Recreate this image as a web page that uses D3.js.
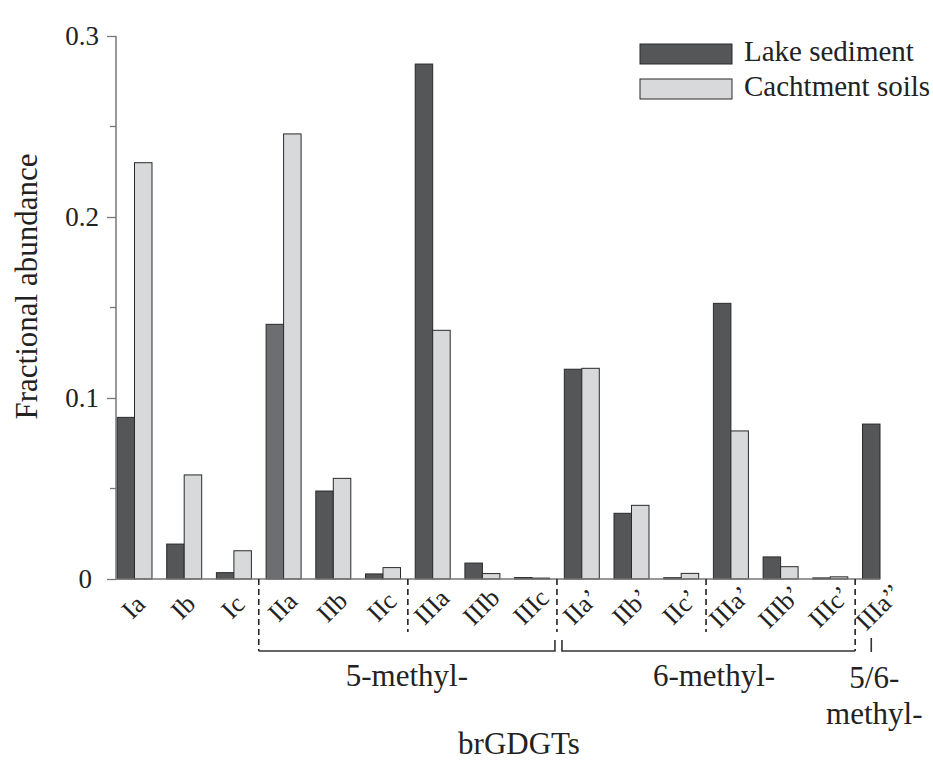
<!DOCTYPE html>
<html>
<head>
<meta charset="utf-8">
<script src="https://cdn.jsdelivr.net/npm/d3@7"></script>
<style>
    body { margin: 0; background: #fff; }
    svg { display: block; font-family: "Liberation Serif", "Times New Roman", serif; }
    .tickLabel { font-size: 27px; fill: #222; font-family: "Liberation Serif", serif; }
    .catLabel { font-size: 26px; fill: #222; }
    .groupLabel { font-size: 31px; fill: #222; }
    .legendText { font-size: 29px; fill: #222; }
</style>
</head>
<body>
<svg id="chart" width="933" height="762"></svg>
<script>
const categories = ['Ia', 'Ib', 'Ic', 'IIa', 'IIb', 'IIc', 'IIIa', 'IIIb', 'IIIc',
    'IIa\u2019', 'IIb\u2019', 'IIc\u2019', 'IIIa\u2019', 'IIIb\u2019', 'IIIc\u2019', 'IIIa\u2019\u2019']
const seriesNames = ['Lake sediment', 'Cachtment soils']
const lakeSediment = [0.0893, 0.0193, 0.0035, 0.1407, 0.0486, 0.0028, 0.2845, 0.0088, 0.0008,
    0.1159, 0.0363, 0.0007, 0.1523, 0.0122, 0.0006, 0.0856]
const catchmentSoils = [0.2300, 0.0575, 0.0156, 0.2459, 0.0556, 0.0063, 0.1374, 0.0030, 0.0005,
    0.1164, 0.0407, 0.0031, 0.0818, 0.0068, 0.0012, null]
const yTicks = [0, 0.1, 0.2, 0.3]
const yMinorTicks = [0.05, 0.15, 0.25]
// index of first category of each block, separators sit in front of these
const separators = [3, 6, 9, 12, 15]
const groups = [
    {name: '5-methyl-', from: 3, to: 9},
    {name: '6-methyl-', from: 9, to: 15}
]

const seriesColors = {'Lake sediment': '#555658', 'Cachtment soils': '#d8d9db'}
const barStroke = '#2a2a2a'

const svg = d3.select('#chart')

const x = d3.scaleBand()
    .domain(categories)
    .range([117, 897.5])
    .paddingInner(0.296)
    .paddingOuter(0)
    .align(0)

const xInner = d3.scaleBand()
    .domain(seriesNames)
    .range([0, x.bandwidth()])

const y = d3.scaleLinear()
    .domain([0, 0.3])
    .range([579, 36])

const rows = categories.map((c, i) => ({
    cat: c,
    values: [
        {series: seriesNames[0], v: lakeSediment[i]},
        {series: seriesNames[1], v: catchmentSoils[i]}
    ].filter(d => d.v != null)
}))

function sepX(i) {
    return x(categories[i]) - (x.step() - x.bandwidth()) / 2
}

function drawBars() {
    let g = svg.append('g')
        .selectAll(null)
        .data(rows)
        .enter()
        .append('g')
        .attr('transform', d => `translate(${x(d.cat)},0)`)

    g.selectAll('rect')
        .data(d => d.values.map(v => ({...v, cat: d.cat})))
        .enter()
        .append('rect')
        .attr('x', d => xInner(d.series))
        .attr('width', xInner.bandwidth())
        .attr('y', d => y(d.v))
        .attr('height', d => y(0) - y(d.v))
        .attr('fill', d => (d.cat == 'IIa' && d.series == seriesNames[0]) ? '#6d6e72' : seriesColors[d.series])
        .attr('stroke', barStroke)
        .attr('stroke-width', 1)
}

function drawYAxis() {
    let axisG = svg.append('g')
        .attr('transform', 'translate(116,0)')

    axisG.call(d3.axisLeft(y)
        .tickValues(yTicks)
        .tickSize(9)
        .tickPadding(8)
        .tickFormat(d => d == 0 ? '0' : d3.format('.1f')(d)))

    axisG.attr('font-family', null).attr('font-size', null)
    axisG.select('.domain').remove()
    axisG.selectAll('.tick line').attr('stroke', '#777').attr('stroke-width', 1.3)
    axisG.selectAll('.tick text')
        .attr('class', 'tickLabel')
        .attr('dx', d => d == 0 ? -7 : 0)

    axisG.selectAll('.minor')
        .data(yMinorTicks)
        .enter()
        .append('line')
        .attr('x1', -6)
        .attr('x2', 0)
        .attr('y1', d => y(d))
        .attr('y2', d => y(d))
        .attr('stroke', '#777')
        .attr('stroke-width', 1.3)

    axisG.append('line')
        .attr('y1', y(0.3))
        .attr('y2', y(0))
        .attr('stroke', '#777')
        .attr('stroke-width', 1.5)

    svg.append('text')
        .attr('class', 'groupLabel')
        .attr('transform', `translate(37,${(y(0) + y(0.3)) / 2 - 21}) rotate(-90)`)
        .attr('text-anchor', 'middle')
        .text('Fractional abundance')
}

function drawXAxis() {
    let last = categories[categories.length - 1]
    svg.append('line')
        .attr('x1', 116)
        .attr('x2', x(last) + xInner.bandwidth())
        .attr('y1', y(0))
        .attr('y2', y(0))
        .attr('stroke', '#777')
        .attr('stroke-width', 1.5)

    svg.append('g')
        .selectAll(null)
        .data(categories)
        .enter()
        .append('text')
        .attr('class', 'catLabel')
        .attr('text-anchor', 'middle')
        .attr('transform', d => `translate(${x(d) + x.bandwidth() / 2 + 5},613) rotate(-45)`)
        .text(d => d)

    // dashed separators, the outer ones run down into the brackets
    svg.append('g')
        .selectAll(null)
        .data(separators)
        .enter()
        .append('line')
        .attr('x1', d => sepX(d))
        .attr('x2', d => sepX(d))
        .attr('y1', y(0))
        .attr('y2', (d, i) => (i == 0 || i == separators.length - 1) ? 651 : 632)
        .attr('stroke', '#222')
        .attr('stroke-width', 1.6)
        .attr('stroke-dasharray', '6,4')

    let bracketG = svg.append('g')
        .attr('fill', 'none')
        .attr('stroke', '#333')
        .attr('stroke-width', 1.6)

    bracketG.selectAll(null)
        .data(groups)
        .enter()
        .append('path')
        .attr('d', (d, i) => {
            let x0 = sepX(d.from) + (i == 0 ? 0 : 5)
            let x1 = sepX(d.to) - (i == 0 ? 2 : 0)
            return i == 0
                ? `M${x0},651H${x1}V640`
                : `M${x0},640V651H${x1}`
        })

    svg.selectAll(null)
        .data(groups)
        .enter()
        .append('text')
        .attr('class', 'groupLabel')
        .attr('text-anchor', 'middle')
        .attr('x', (d, i) => (sepX(d.from) + sepX(d.to)) / 2 + (i == 0 ? -1 : 8))
        .attr('y', 686)
        .text(d => d.name)

    let lastX = x(last) + xInner.bandwidth() / 2
    bracketG.append('line')
        .attr('x1', lastX)
        .attr('x2', lastX)
        .attr('y1', 638)
        .attr('y2', 652)

    let mixG = svg.append('text')
        .attr('class', 'groupLabel')
        .attr('text-anchor', 'middle')
    mixG.append('tspan').attr('x', lastX + 3).attr('y', 688).text('5/6-')
    mixG.append('tspan').attr('x', lastX + 3).attr('y', 724).text('methyl-')

    svg.append('text')
        .attr('class', 'groupLabel')
        .attr('text-anchor', 'middle')
        .attr('x', 519)
        .attr('y', 754)
        .text('brGDGTs')
}

function drawLegend() {
    let legendG = svg.append('g')
        .attr('transform', 'translate(640,44)')

    let items = legendG.selectAll(null)
        .data(seriesNames)
        .enter()
        .append('g')
        .attr('transform', (d, i) => `translate(0,${i * 35})`)

    items.append('rect')
        .attr('width', 92)
        .attr('height', 20)
        .attr('fill', d => seriesColors[d])
        .attr('stroke', barStroke)
        .attr('stroke-width', 1)

    items.append('text')
        .attr('class', 'legendText')
        .attr('x', 104)
        .attr('y', 17)
        .text(d => d)
}

drawBars()
drawYAxis()
drawXAxis()
drawLegend()
</script>
</body>
</html>
